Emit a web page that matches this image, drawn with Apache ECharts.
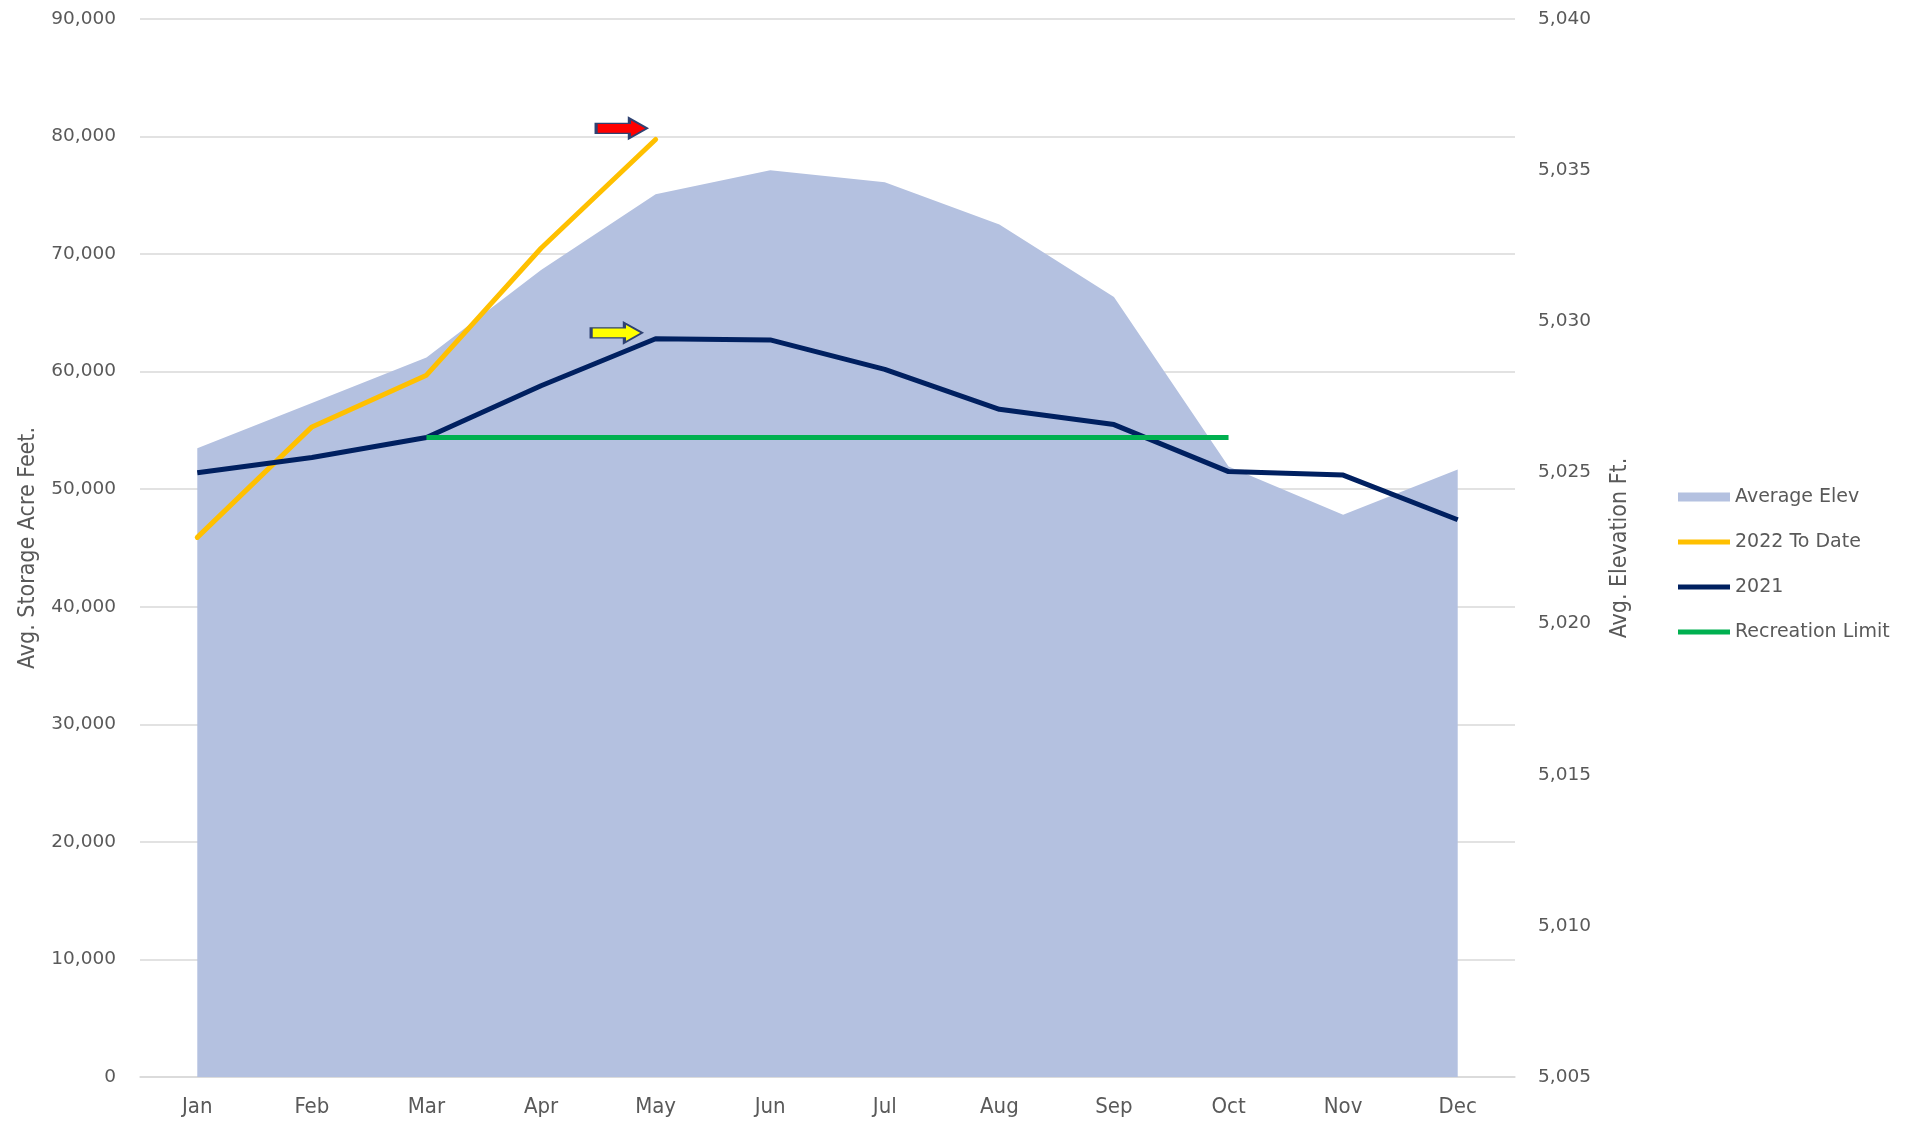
<!DOCTYPE html>
<html>
<head>
<meta charset="utf-8">
<script src="https://cdn.jsdelivr.net/npm/echarts@6/dist/echarts.min.js"></script>
<style>
  html, body { margin: 0; padding: 0; background: #fff; }
  #main { width: 1911px; height: 1121px; }
</style>
</head>
<body>
<div id="main"></div>
<script>
// reservoir storage vs elevation
var months = ['Jan', 'Feb', 'Mar', 'Apr', 'May', 'Jun', 'Jul', 'Aug', 'Sep', 'Oct', 'Nov', 'Dec'];
var avgElev = [5025.8, 5027.3, 5028.8, 5031.7, 5034.2, 5035.0, 5034.6, 5033.2, 5030.8, 5025.2, 5023.6, 5025.1];
var toDate2022 = [45900, 55300, 59700, 70500, 79750, null, null, null, null, null, null, null];
var year2021 = [51400, 52700, 54400, 58800, 62800, 62700, 60200, 56800, 55500, 51500, 51200, 47400];
var recLimit = [null, null, 54400, 54400, 54400, 54400, 54400, 54400, 54400, 54400, null, null];
// arrow annotations: [month, storage value]
var redArrowAt = ['May', 80700];
var yellowArrowAt = ['May', 63300];

var arrowPath = 'path://M0,5 L30,5 L30,0 L46,10 L30,20 L30,15 L0,15 Z';
// legend icons: the extra moveTo points keep every icon in the same 52x24 box
var lineIcon = 'path://M0,0 M52,24 M0,9.5 L52,9.5 L52,14.5 L0,14.5 Z';
var areaIcon = 'path://M0,0 M52,24 M0,7.5 L52,7.5 L52,16.5 L0,16.5 Z';
var tickFont = 'DejaVu Sans';
var narrowFont = "'Liberation Sans Narrow', 'DejaVu Sans Condensed', sans-serif";

var chart = echarts.init(document.getElementById('main'));

chart.setOption({
  animation: false,
  grid: { left: 140, right: 396, top: 19, bottom: 44 },
  legend: {
    orient: 'vertical',
    left: 1673,
    top: 480,
    itemWidth: 52,
    itemHeight: 24,
    itemGap: 21,
    textStyle: { fontFamily: tickFont, fontSize: 19, color: '#595959' },
    data: [
      { name: 'Average Elev', icon: areaIcon },
      { name: '2022 To Date', icon: lineIcon },
      { name: '2021', icon: lineIcon },
      { name: 'Recreation Limit', icon: lineIcon }
    ]
  },
  xAxis: {
    type: 'category',
    data: months,
    boundaryGap: true,
    axisLine: { lineStyle: { color: '#D9D9D9', width: 1.5 } },
    axisTick: { show: false },
    axisLabel: { fontFamily: narrowFont, fontSize: 22, color: '#595959', margin: 19 }
  },
  yAxis: [
    {
      type: 'value',
      min: 0, max: 90000, interval: 10000,
      name: 'Avg. Storage Acre Feet.',
      nameLocation: 'middle',
      nameGap: 100,
      nameTextStyle: { fontFamily: narrowFont, fontSize: 23, color: '#595959' },
      axisLabel: {
        fontFamily: tickFont, fontSize: 18.5, color: '#595959', margin: 24,
        formatter: function (v) { return v.toLocaleString('en-US'); }
      },
      splitLine: { lineStyle: { color: '#D9D9D9', width: 1.5 } }
    },
    {
      type: 'value',
      min: 5005, max: 5040, interval: 5,
      name: 'Avg. Elevation Ft.',
      nameLocation: 'middle',
      nameGap: 94,
      nameRotate: 90,
      nameTextStyle: { fontFamily: narrowFont, fontSize: 23, color: '#595959' },
      axisLabel: {
        fontFamily: tickFont, fontSize: 18.5, color: '#595959', margin: 23,
        formatter: function (v) { return v.toLocaleString('en-US'); }
      },
      splitLine: { show: false }
    }
  ],
  series: [
    {
      name: 'Average Elev',
      type: 'line',
      yAxisIndex: 1,
      data: avgElev,
      symbol: 'none',
      color: '#B4C1E0',
      lineStyle: { width: 0 },
      areaStyle: { color: '#B4C1E0', opacity: 1 }
    },
    {
      name: '2022 To Date',
      type: 'line',
      data: toDate2022,
      symbol: 'none',
      color: '#FFC000',
      lineStyle: { width: 5, cap: 'round', join: 'round' },
      markPoint: {
        symbol: arrowPath,
        symbolSize: [51, 20],
        symbolOffset: [-34, 0],
        label: { show: false },
        itemStyle: { color: '#FF0000', borderColor: '#2F4272', borderWidth: 2 },
        data: [{ coord: redArrowAt }]
      }
    },
    {
      name: '2021',
      type: 'line',
      data: year2021,
      symbol: 'none',
      color: '#002060',
      lineStyle: { width: 5, join: 'round' },
      markPoint: {
        symbol: arrowPath,
        symbolSize: [51, 20],
        symbolOffset: [-39, 0],
        label: { show: false },
        itemStyle: { color: '#FFFF00', borderColor: '#2F4272', borderWidth: 2 },
        data: [{ coord: yellowArrowAt }]
      }
    },
    {
      name: 'Recreation Limit',
      type: 'line',
      data: recLimit,
      symbol: 'none',
      color: '#00B050',
      lineStyle: { width: 5 }
    }
  ]
});
</script>
</body>
</html>
